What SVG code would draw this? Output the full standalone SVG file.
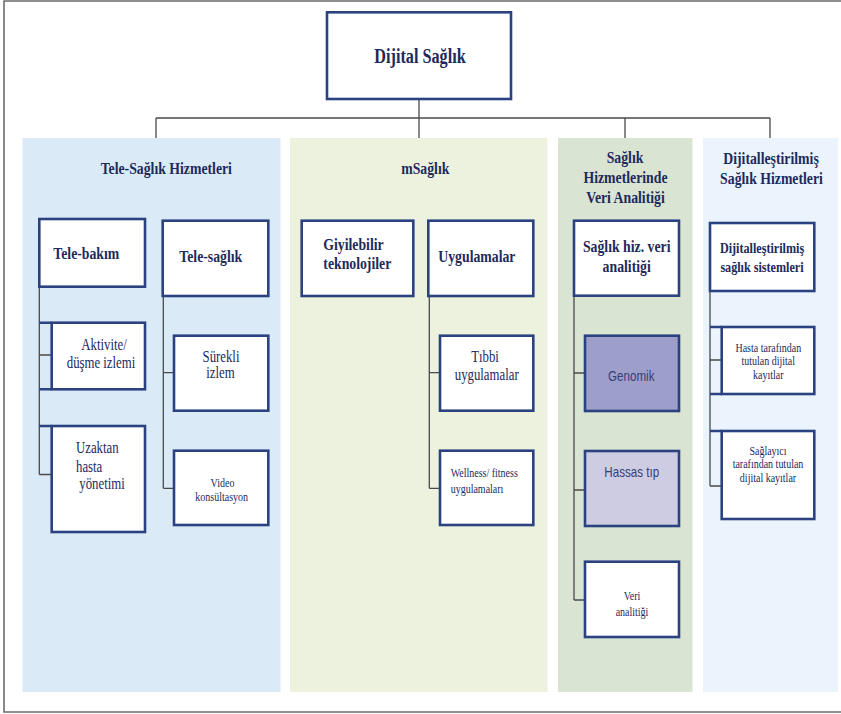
<svg xmlns="http://www.w3.org/2000/svg" width="841" height="714" viewBox="0 0 841 714">
  <style>
    .frame { fill: none; stroke: #6b6b6b; stroke-width: 1.6; }
    .box { fill: #ffffff; stroke: #2b4281; stroke-width: 2.6; }
    .edge { fill: none; stroke: #2b4281; stroke-width: 2.6; }
    .link { fill: none; stroke: #4a4a4a; stroke-width: 1.3; }
    text { font-family: "Liberation Serif", "Times New Roman", serif; fill: #1d2a5c; }
    .hd { font-size: 17px; font-weight: bold; text-anchor: middle; }
    .lb { font-size: 17px; font-weight: bold; }
    .rg { font-size: 16px; }
    .sm { font-size: 12.5px; }
    .sans { font-family: "Liberation Sans", Arial, sans-serif; font-size: 14.5px; fill: #34407a; }
    .mid { text-anchor: middle; }
  </style>

  <!-- page frame -->
  <path class="frame" d="M845 1 H4 V712 H845"/>

  <!-- column panels -->
  <rect x="22.5" y="138" width="258" height="554" fill="#dbeaf7"/>
  <rect x="290" y="138" width="257.5" height="554" fill="#edf2df"/>
  <rect x="558" y="138" width="134.5" height="554" fill="#d9e4d3"/>
  <rect x="703" y="138" width="135" height="554" fill="#ebf4fc"/>

  <!-- connectors -->
  <g id="connectors">
    <path class="link" d="M419 99 V138 M156 118 H770 M156 118 V138 M625 118 V138 M770 118 V138"/>
    <!-- Tele-bakım -->
    <path class="link" d="M39.3 286 V474.5 M39.3 355 H51.7 M39.3 474.5 H51.7"/>
    <path class="edge" d="M39.3 322.7 H51.7 M39.3 389.3 H51.7 M39.3 426 H51.7"/>
    <!-- Tele-sağlık -->
    <path class="link" d="M163.3 296 V488.3 M163.3 372.7 H174 M163.3 488.3 H174"/>
    <!-- Uygulamalar -->
    <path class="link" d="M429.3 296 V488.3 M429.3 372.7 H440 M429.3 488.3 H440"/>
    <!-- Sağlık hiz. veri analitiği -->
    <path class="link" d="M574 296 V600 M574 373 H585 M574 490 H585 M574 600 H585"/>
    <!-- Dijitalleştirilmiş sağlık sistemleri -->
    <path class="link" d="M710 291 V486 M710 360 H721.7 M710 486 H721.7"/>
    <path class="edge" d="M710 327 H721.7 M710 394 H721.7 M710 431 H721.7"/>
  </g>

  <!-- root -->
  <g id="dijital-saglik">
    <rect class="box" x="327" y="12.3" width="184" height="86.7"/>
    <text font-size="20" font-weight="bold" text-anchor="middle" transform="translate(420 63.3) scale(.81 1)">Dijital Sağlık</text>
  </g>

  <!-- column headings -->
  <g id="tele-saglik-hizmetleri">
    <text class="hd" transform="translate(166.3 174) scale(.81 1)">Tele-Sağlık Hizmetleri</text>
  </g>
  <g id="msaglik">
    <text class="hd" transform="translate(425.3 174) scale(.81 1)">mSağlık</text>
  </g>
  <g id="veri-analitigi-baslik">
    <text class="hd" transform="translate(625 163.3) scale(.81 1)">Sağlık</text>
    <text class="hd" transform="translate(625.5 183.3) scale(.81 1)">Hizmetlerinde</text>
    <text class="hd" transform="translate(625.5 203.3) scale(.81 1)">Veri Analitiği</text>
  </g>
  <g id="dijitallestirilmis-baslik">
    <text class="hd" transform="translate(771 164.3) scale(.81 1)">Dijitalleştirilmiş</text>
    <text class="hd" transform="translate(771.5 184) scale(.81 1)">Sağlık Hizmetleri</text>
  </g>

  <!-- Tele-Sağlık column -->
  <g id="tele-bakim">
    <rect class="box" x="39.3" y="219" width="105.7" height="67.7"/>
    <text class="lb" transform="translate(53.3 259.3) scale(.81 1)">Tele-bakım</text>
  </g>
  <g id="aktivite">
    <rect class="box" x="51.7" y="322.7" width="93.3" height="66.6"/>
    <text class="rg mid" transform="translate(104 350) scale(.8 1)">Aktivite/</text>
    <text class="rg mid" transform="translate(101 367.7) scale(.8 1)">düşme izlemi</text>
  </g>
  <g id="uzaktan-hasta">
    <rect class="box" x="51.7" y="426" width="93.3" height="106"/>
    <text class="rg" transform="translate(76 453.3) scale(.8 1)">Uzaktan</text>
    <text class="rg" transform="translate(76 471.7) scale(.8 1)">hasta</text>
    <text class="rg" transform="translate(79.3 489.3) scale(.8 1)">yönetimi</text>
  </g>
  <g id="tele-saglik">
    <rect class="box" x="162.7" y="220.7" width="105.6" height="75.3"/>
    <text class="lb" transform="translate(179.3 261.5) scale(.81 1)">Tele-sağlık</text>
  </g>
  <g id="surekli-izlem">
    <rect class="box" x="174" y="335.7" width="94.3" height="75"/>
    <text class="rg mid" transform="translate(221 361.7) scale(.8 1)">Sürekli</text>
    <text class="rg mid" transform="translate(220.5 378.3) scale(.8 1)">izlem</text>
  </g>
  <g id="video-konsultasyon">
    <rect class="box" x="174" y="450.7" width="94.3" height="74.3"/>
    <text class="sm mid" transform="translate(222.5 486.5) scale(.8 1)">Video</text>
    <text class="sm mid" transform="translate(221.7 501) scale(.8 1)">konsültasyon</text>
  </g>

  <!-- mSağlık column -->
  <g id="giyilebilir">
    <rect class="box" x="301.7" y="220.7" width="111.6" height="75.3"/>
    <text class="lb" transform="translate(323.3 250) scale(.81 1)">Giyilebilir</text>
    <text class="lb" transform="translate(323.3 269) scale(.81 1)">teknolojiler</text>
  </g>
  <g id="uygulamalar">
    <rect class="box" x="428.3" y="220.7" width="105" height="75.3"/>
    <text class="lb" transform="translate(438.3 261.5) scale(.81 1)">Uygulamalar</text>
  </g>
  <g id="tibbi-uygulamalar">
    <rect class="box" x="440" y="335.7" width="93.3" height="75"/>
    <text class="rg mid" transform="translate(485 361.7) scale(.8 1)">Tıbbi</text>
    <text class="rg mid" transform="translate(486.7 380) scale(.8 1)">uygulamalar</text>
  </g>
  <g id="wellness">
    <rect class="box" x="440" y="450.7" width="93.3" height="74.3"/>
    <text class="sm" transform="translate(450.7 476.7) scale(.8 1)">Wellness/ fitness</text>
    <text class="sm" transform="translate(450.7 492.7) scale(.8 1)">uygulamaları</text>
  </g>

  <!-- Veri analitiği column -->
  <g id="saglik-hiz-veri">
    <rect class="box" x="574" y="220.7" width="105" height="75"/>
    <text class="lb mid" transform="translate(626.7 251.7) scale(.81 1)">Sağlık hiz. veri</text>
    <text class="lb mid" transform="translate(626.7 271.7) scale(.81 1)">analitiği</text>
  </g>
  <g id="genomik">
    <rect class="box" x="585" y="335.7" width="94" height="75.3" style="fill:#9d9ec9"/>
    <text class="sans mid" transform="translate(631.3 380.7) scale(.8 1)">Genomik</text>
  </g>
  <g id="hassas-tip">
    <rect class="box" x="585" y="451" width="94" height="75" style="fill:#cdcce3"/>
    <text class="sans mid" transform="translate(631.7 477.3) scale(.8 1)">Hassas tıp</text>
  </g>
  <g id="veri-analitigi">
    <rect class="box" x="585" y="561.7" width="94" height="75.3"/>
    <text class="sm mid" transform="translate(632 600) scale(.8 1)">Veri</text>
    <text class="sm mid" transform="translate(632 616) scale(.8 1)">analitiği</text>
  </g>

  <!-- Dijitalleştirilmiş column -->
  <g id="dijital-sistemler">
    <rect class="box" x="710" y="223" width="104.3" height="68"/>
    <text font-size="15" font-weight="bold" text-anchor="middle" transform="translate(762 253.3) scale(.81 1)">Dijitalleştirilmiş</text>
    <text font-size="15" font-weight="bold" text-anchor="middle" transform="translate(762 271.7) scale(.81 1)">sağlık sistemleri</text>
  </g>
  <g id="hasta-kayitlari">
    <rect class="box" x="721.7" y="327" width="92.6" height="67"/>
    <text class="sm mid" transform="translate(768.3 351.7) scale(.8 1)">Hasta tarafından</text>
    <text class="sm mid" transform="translate(768.3 365.2) scale(.8 1)">tutulan dijital</text>
    <text class="sm mid" transform="translate(768.3 378.7) scale(.8 1)">kayıtlar</text>
  </g>
  <g id="saglayici-kayitlari">
    <rect class="box" x="721.7" y="431" width="92.6" height="88"/>
    <text class="sm mid" transform="translate(768 454.5) scale(.8 1)">Sağlayıcı</text>
    <text class="sm mid" transform="translate(768 468) scale(.8 1)">tarafından tutulan</text>
    <text class="sm mid" transform="translate(768 482.3) scale(.8 1)">dijital kayıtlar</text>
  </g>
</svg>
